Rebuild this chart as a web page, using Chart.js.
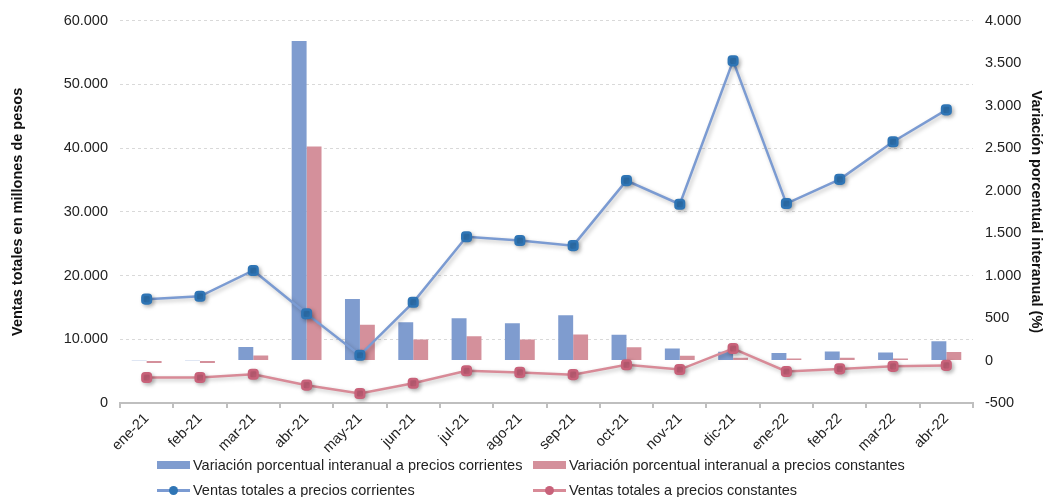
<!DOCTYPE html>
<html>
<head>
<meta charset="utf-8">
<script src="https://cdn.jsdelivr.net/npm/chart.js@4/dist/chart.umd.min.js"></script>
<style>
    body { margin: 0; background: #fff; font-family: "Liberation Sans", Arial, sans-serif; }
    #wrap { position: relative; width: 1049px; height: 497px; }
    .leg { position: absolute; font-size: 14.5px; color: #222; white-space: nowrap; line-height: 16px; }
    .box { position: absolute; width: 33px; height: 8px; }
    .ln { position: absolute; width: 33px; height: 3px; }
    .dot { position: absolute; width: 9px; height: 9px; border-radius: 50%; }
</style>
</head>
<body>
<div id="wrap">
    <canvas id="ventas_chart" width="1049" height="497"></canvas>
    <div id="legend"></div>
</div>
<script>
// month labels
const meses = ["ene-21", "feb-21", "mar-21", "abr-21", "may-21", "jun-21", "jul-21", "ago-21",
    "sep-21", "oct-21", "nov-21", "dic-21", "ene-22", "feb-22", "mar-22", "abr-22"];

// year-on-year variation (%), right axis
const varCorrientes = [3, 3, 160, 3760, 725, 450, 498, 440, 533, 302, 142, 102, 90, 107, 95, 228];
const varConstantes = [-30, -30, 60, 2520, 420, 248, 287, 248, 307, 157, 55, 32, 25, 32, 25, 99];

// total sales in millions of pesos, left axis
const ventasCorrientes = [16300, 16750, 20800, 14000, 7500, 15800, 26100, 25500,
    24700, 34900, 31200, 53700, 31300, 35100, 41000, 46000];
const ventasConstantes = [4000, 4000, 4500, 2800, 1500, 3100, 5050, 4800,
    4450, 6000, 5250, 8550, 4950, 5350, 5750, 5900];

const leftTicks = { min: 0, max: 60000, step: 10000 };
const rightTicks = { min: -500, max: 4000, step: 500 };

const legendItems = [
    { text: "Variación porcentual interanual a precios corrientes", type: "bar", color: "#7f9ccf" },
    { text: "Variación porcentual interanual a precios constantes", type: "bar", color: "#d4909b" },
    { text: "Ventas totales a precios corrientes", type: "line", color: "#7b9bd2", dot: "#2f75b5" },
    { text: "Ventas totales a precios constantes", type: "line", color: "#d88a97", dot: "#c8627a" }
];

//format numbers with dot as thousands separator
function fmt(v) {
    let s = String(Math.abs(v)).replace(/\B(?=(\d{3})+(?!\d))/g, ".");
    return (v < 0 ? "-" : "") + s;
}

//soft shadow under the lines, like the original
const shadowPlugin = {
    id: "lineShadow",
    beforeDatasetDraw(chart, args) {
        if (args.meta.type !== "line") return;
        const ctx = chart.ctx;
        ctx.save();
        ctx.shadowColor = "rgba(0,0,0,0.25)";
        ctx.shadowBlur = 4;
        ctx.shadowOffsetX = 2;
        ctx.shadowOffsetY = 2;
    },
    afterDatasetDraw(chart, args) {
        if (args.meta.type !== "line") return;
        chart.ctx.restore();
    }
};

Chart.defaults.font.family = '"Liberation Sans", Arial, sans-serif';
Chart.defaults.color = "#222";

const ctx = document.querySelector("#ventas_chart").getContext("2d");
const chart = new Chart(ctx, {
    type: "bar",
    data: {
        labels: meses,
        datasets: [
            {
                type: "line",
                label: legendItems[2].text,
                data: ventasCorrientes,
                yAxisID: "y",
                borderColor: legendItems[2].color,
                borderWidth: 2.5,
                pointStyle: "rectRounded",
                pointRadius: 5,
                pointBackgroundColor: legendItems[2].dot,
                pointBorderColor: legendItems[2].dot,
                order: 0
            },
            {
                type: "line",
                label: legendItems[3].text,
                data: ventasConstantes,
                yAxisID: "y",
                borderColor: legendItems[3].color,
                borderWidth: 2.5,
                pointStyle: "rectRounded",
                pointRadius: 5,
                pointBackgroundColor: legendItems[3].dot,
                pointBorderColor: legendItems[3].dot,
                order: 0
            },
            {
                label: legendItems[0].text,
                data: varCorrientes,
                yAxisID: "y1",
                backgroundColor: legendItems[0].color,
                order: 1
            },
            {
                label: legendItems[1].text,
                data: varConstantes,
                yAxisID: "y1",
                backgroundColor: legendItems[1].color,
                order: 1
            }
        ]
    },
    options: {
        responsive: false,
        animation: false,
        layout: { padding: { top: 12, bottom: 42, left: 9, right: 4 } },
        datasets: {
            bar: { barPercentage: 1.0, categoryPercentage: 0.56 }
        },
        plugins: {
            legend: { display: false },
            tooltip: { enabled: false }
        },
        scales: {
            x: {
                grid: { drawOnChartArea: false, drawTicks: true, tickLength: 5, color: "#bfbfbf", lineWidth: 2 },
                border: { color: "#bfbfbf", width: 2 },
                ticks: { maxRotation: 45, minRotation: 45, font: { size: 14.5 }, padding: 2 },
                afterFit: s => { s.height = 52; }
            },
            y: {
                position: "left",
                min: leftTicks.min,
                max: leftTicks.max,
                ticks: { stepSize: leftTicks.step, font: { size: 14.5 }, padding: 12, callback: v => fmt(v) },
                grid: { color: "#d9d9d9", drawTicks: false },
                border: { display: false, dash: [3, 3] },
                title: {
                    display: true,
                    text: "Ventas totales en millones de pesos",
                    font: { size: 14.5, weight: "bold" },
                    color: "#111",
                    padding: 0
                },
                afterFit: s => { s.width = 111; }
            },
            y1: {
                position: "right",
                min: rightTicks.min,
                max: rightTicks.max,
                ticks: { stepSize: rightTicks.step, font: { size: 14.5 }, padding: 12, callback: v => fmt(v) },
                grid: { drawOnChartArea: false, drawTicks: false },
                border: { display: false },
                title: {
                    display: true,
                    text: "Variación porcentual interanual (%)",
                    font: { size: 14.5, weight: "bold" },
                    color: "#111",
                    padding: 0
                },
                afterFit: s => { s.width = 72; }
            }
        }
    },
    plugins: [shadowPlugin]
});

//legend as two fixed columns under the chart
const legend = document.querySelector("#legend");
const cols = [157, 533];
const rows = [465, 490];
legendItems.forEach((item, i) => {
    let x = cols[i % 2];
    let y = rows[Math.floor(i / 2)];
    if (item.type === "bar") {
        legend.insertAdjacentHTML("beforeend",
            `<div class="box" style="left:${x}px;top:${y - 4}px;background:${item.color}"></div>`);
    } else {
        legend.insertAdjacentHTML("beforeend",
            `<div class="ln" style="left:${x}px;top:${y - 1}px;background:${item.color}"></div>` +
            `<div class="dot" style="left:${x + 12}px;top:${y - 4}px;background:${item.dot}"></div>`);
    }
    legend.insertAdjacentHTML("beforeend",
        `<div class="leg" style="left:${x + 36}px;top:${y - 8}px">${item.text}</div>`);
});
</script>
</body>
</html>
